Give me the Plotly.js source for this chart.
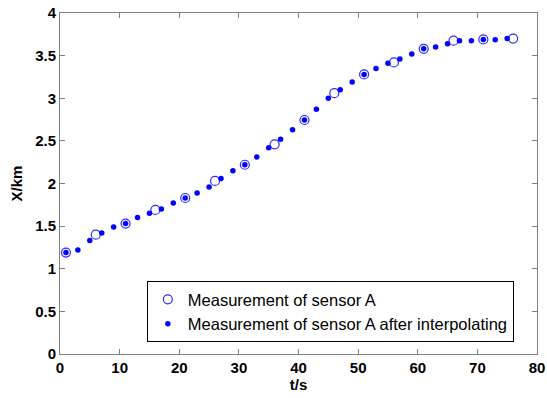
<!DOCTYPE html>
<html><head><meta charset="utf-8">
<script src="https://cdn.plot.ly/plotly-3.0.1.min.js"></script>
<style>html,body{margin:0;padding:0;background:#fff}</style>
</head><body>
<div id="chart" style="width:547px;height:398px"></div>
<script>
// Measurement of sensor A (every 5 s)
var measT = [1, 6, 11, 16, 21, 26, 31, 36, 41, 46, 51, 56, 61, 66, 71, 76];
var measX = [1.19, 1.40, 1.53, 1.69, 1.83, 2.03, 2.22, 2.46, 2.745, 3.06, 3.28, 3.42, 3.58, 3.675, 3.69, 3.70];
// After interpolating (every 2 s)
var interpT = [1, 3, 5, 7, 9, 11, 13, 15, 17, 19, 21, 23, 25, 27, 29, 31, 33, 35, 37, 39,
               41, 43, 45, 47, 49, 51, 53, 55, 57, 59, 61, 63, 65, 67, 69, 71, 73, 75];
var interpX = [1.19, 1.22, 1.33, 1.42, 1.49, 1.53, 1.60, 1.65, 1.70, 1.77, 1.83, 1.89, 1.96, 2.06, 2.15, 2.22, 2.31, 2.42, 2.52, 2.63,
               2.745, 2.87, 3.00, 3.10, 3.19, 3.28, 3.35, 3.41, 3.46, 3.52, 3.58, 3.60, 3.64, 3.675, 3.675, 3.69, 3.687, 3.70];
var seriesNames = ['Measurement of sensor A', 'Measurement of sensor A after interpolating'];
var xTicks = [0, 10, 20, 30, 40, 50, 60, 70, 80];
var yTicks = [0, 0.5, 1, 1.5, 2, 2.5, 3, 3.5, 4];

var FONT = 'Liberation Sans, Arial, sans-serif';
var traces = [
  {x: measT, y: measX, name: seriesNames[0], type: 'scatter', mode: 'markers',
   marker: {symbol: 'circle-open', size: 9, color: '#2b2bff', line: {width: 1.2}}},
  {x: interpT, y: interpX, name: seriesNames[1], type: 'scatter', mode: 'markers',
   marker: {symbol: 'circle', size: 5.5, color: '#0000ff'}}
];
var axisCommon = {
  showline: true, linecolor: '#808080', linewidth: 1, mirror: 'ticks',
  ticks: 'inside', ticklen: 5, tickcolor: '#808080', showgrid: false, zeroline: false,
  tickfont: {family: FONT, size: 15, color: '#000', weight: 'bold'}
};
var layout = {
  width: 547, height: 398,
  margin: {l: 60, r: 10, t: 13, b: 44},
  paper_bgcolor: '#fff', plot_bgcolor: '#fff',
  showlegend: true,
  xaxis: Object.assign({}, axisCommon, {
    range: [0, 80], tickvals: xTicks, ticktext: xTicks.map(String),
    title: {text: 't/s', standoff: 2, font: {family: FONT, size: 15, color: '#000', weight: 'bold'}}
  }),
  yaxis: Object.assign({}, axisCommon, {
    range: [0, 4], tickvals: yTicks, ticktext: yTicks.map(String),
    title: {text: 'X/km', standoff: 8, font: {family: FONT, size: 15, color: '#000', weight: 'bold'}}
  }),
  legend: {
    x: 0.182, y: 0.035, xanchor: 'left', yanchor: 'bottom',
    bgcolor: '#fff', bordercolor: '#000', borderwidth: 1,
    font: {family: FONT, size: 16.5, color: '#000'}
  }
};
Plotly.newPlot('chart', traces, layout, {displayModeBar: false, staticPlot: true});
</script>
</body></html>
